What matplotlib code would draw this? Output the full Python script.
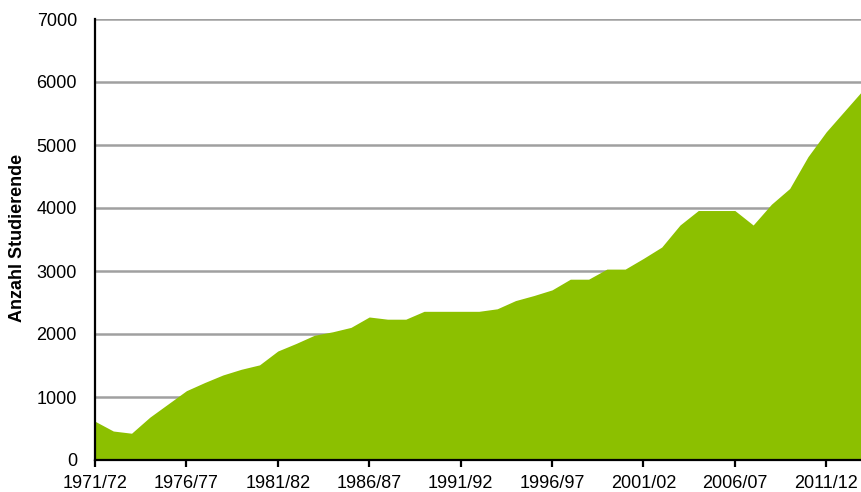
#!/usr/bin/env python3
"""Area chart: Anzahl Studierende 1971/72 - 2013/14."""
import matplotlib
matplotlib.use("Agg")
import matplotlib.pyplot as plt
import numpy as np

GREEN = "#8cc000"
GRID = "#a0a0a0"

plt.rcParams.update({
    "font.family": ["Liberation Sans", "DejaVu Sans"],
    "font.size": 13,
})

start_years = list(range(1971, 2014))
students = [
    615, 460, 425, 680, 890, 1100, 1230, 1350, 1440, 1510,
    1730, 1850, 1980, 2035, 2105, 2270, 2235, 2235, 2360, 2360,
    2360, 2360, 2400, 2530, 2610, 2700, 2870, 2870, 3030, 3030,
    3200, 3380, 3730, 3960, 3960, 3960, 3730, 4060, 4310, 4815,
    5210, 5540, 5870,
]
semesters = [f"{y}/{(y + 1) % 100:02d}" for y in start_years]
x = np.arange(len(students))

fig = plt.figure(figsize=(8.61, 4.92), dpi=100)
ax = fig.add_axes([95 / 861, 1 - 460 / 492, 1 - 95 / 861, (460 - 19) / 492])

ax.fill_between(x, students, 0, color=GREEN, linewidth=0, zorder=2)

ax.set_xlim(0, 41.9)
ax.set_ylim(0, 7000)
ax.set_yticks(np.arange(0, 7001, 1000))
ax.yaxis.grid(True, color=GRID, linewidth=1.8, zorder=1)
ax.set_axisbelow(True)

ax.set_xticks(x[::5])
ax.set_xticklabels(semesters[::5])

for side in ("top", "right"):
    ax.spines[side].set_visible(False)
for side in ("left", "bottom"):
    ax.spines[side].set_linewidth(1.6)
    ax.spines[side].set_color("black")
    ax.spines[side].set_zorder(3)

ax.tick_params(axis="x", direction="out", length=5, width=1.6, pad=6, labelsize=13)
ax.tick_params(axis="y", length=0, pad=13, labelsize=13)

fig.text(18 / 861, 1 - 238 / 492, "Anzahl Studierende", rotation=90,
         ha="center", va="center", fontsize=13, fontweight="bold")

fig.savefig("out.png", dpi=100)
